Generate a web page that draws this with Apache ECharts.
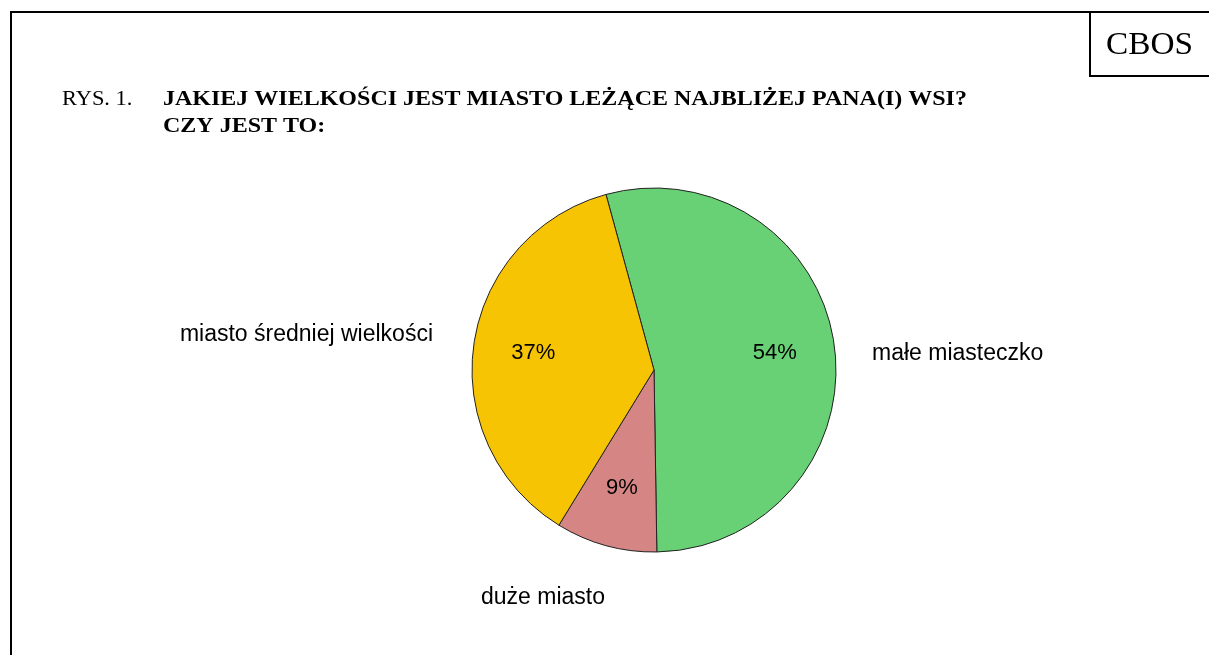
<!DOCTYPE html>
<html>
<head>
<meta charset="utf-8">
<script src="https://cdn.jsdelivr.net/npm/echarts@6/dist/echarts.min.js"></script>
<style>
html,body{margin:0;padding:0;background:#fff;}
#chart{width:1209px;height:655px;}
</style>
</head>
<body>
<div id="chart"></div>
<script>
// ---- data ----
const categories = ['małe miasteczko', 'duże miasto', 'miasto średniej wielkości'];
const values = [54, 9, 37];
const colors = ['#69D175', '#D68585', '#F7C404'];
const figureNo = 'RYS. 1.';
const titleLines = ['JAKIEJ WIELKOŚCI JEST MIASTO LEŻĄCE NAJBLIŻEJ PANA(I) WSI?', 'CZY JEST TO:'];
const sourceTag = 'CBOS';

// ---- layout (styles only) ----
const cx = 654, cy = 370, R = 182;
const outerLabelAnchor = [
  {dx: 218, dy: -16, align: 'left'},
  {dx: -111, dy: 228, align: 'center'},
  {dx: -221, dy: -35, align: 'right'}
];

const chart = echarts.init(document.getElementById('chart'), null, {renderer: 'canvas'});
const data = categories.map((c, i) => ({name: c, value: values[i], itemStyle: {color: colors[i]}}));

chart.setOption({
  animation: false,
  backgroundColor: '#fff',
  graphic: [
    {type: 'rect', shape: {x: 11, y: 12, width: 1230, height: 700}, style: {fill: 'none', stroke: '#000', lineWidth: 2}, silent: true},
    {type: 'rect', shape: {x: 1090, y: 12, width: 150, height: 64}, style: {fill: '#fff', stroke: '#000', lineWidth: 2}, silent: true},
    {type: 'text', x: 1106, y: 46, scaleX: 1.04, style: {text: sourceTag, font: '32px "Liberation Serif"', fill: '#000', textVerticalAlign: 'middle'}, silent: true},
    {type: 'text', x: 62, y: 100, scaleX: 1.12, style: {text: figureNo, font: '20px "Liberation Serif"', fill: '#000', textVerticalAlign: 'middle'}, silent: true},
    {type: 'text', x: 163, y: 100, scaleX: 1.2, style: {text: titleLines[0], font: 'bold 20px "Liberation Serif"', fill: '#000', textVerticalAlign: 'middle'}, silent: true},
    {type: 'text', x: 163, y: 127, scaleX: 1.2, style: {text: titleLines[1], font: 'bold 20px "Liberation Serif"', fill: '#000', textVerticalAlign: 'middle'}, silent: true}
  ],
  series: [
    {
      type: 'pie',
      center: [cx, cy],
      radius: [0, R],
      startAngle: 105.3,
      clockwise: true,
      silent: true,
      data: data,
      itemStyle: {borderColor: '#222', borderWidth: 1},
      label: {show: true, position: 'outside', formatter: '{b}', fontFamily: 'Liberation Sans', fontSize: 23, color: '#000'},
      labelLine: {show: false},
      labelLayout: function (p) {
        const a = outerLabelAnchor[p.dataIndex];
        return {x: cx + a.dx, y: cy + a.dy, align: a.align, verticalAlign: 'middle'};
      }
    },
    {
      type: 'pie',
      center: [cx, cy],
      radius: [56, R],
      startAngle: 105.3,
      clockwise: true,
      silent: true,
      data: categories.map((c, i) => ({name: c, value: values[i]})),
      itemStyle: {color: 'rgba(0,0,0,0)', borderWidth: 0},
      label: {show: true, position: 'inside', formatter: '{c}%', fontFamily: 'Liberation Sans', fontSize: 22, color: '#000'},
      labelLine: {show: false}
    }
  ]
});
</script>
</body>
</html>
